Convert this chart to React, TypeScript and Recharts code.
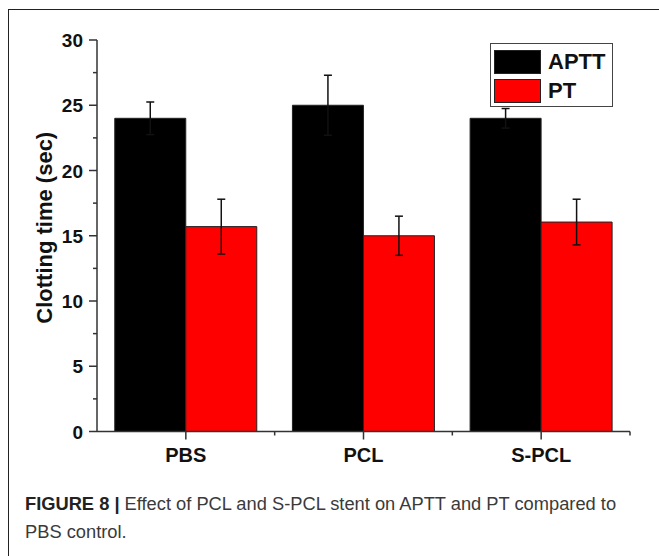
import React from "react";
import { BarChart, Bar, XAxis, YAxis, ErrorBar, Legend } from "recharts";

const categories = ["PBS", "PCL", "S-PCL"];
const apttValues = [24.0, 25.0, 24.0];
const apttErrors = [1.25, 2.3, 0.75];
const ptValues = [15.7, 15.0, 16.05];
const ptErrors = [2.1, 1.5, 1.75];
const yTicks = [0, 2.5, 5, 7.5, 10, 12.5, 15, 17.5, 20, 22.5, 25, 27.5, 30];

const FONT = '"Liberation Sans", Arial, Helvetica, sans-serif';
const AXIS = "#333";

// plot box: left 97, right 630, top 40, bottom 431.5
const CHART_W = 659;
const CHART_H = 480;
const PLOT_W = 533;
const BAND = PLOT_W / categories.length;

const data = categories.map((name, i) => ({
  name,
  aptt: apttValues[i],
  apttErr: apttErrors[i],
  pt: ptValues[i],
  ptErr: ptErrors[i],
}));

const series = [
  { key: "aptt", err: "apttErr", label: "APTT", color: "#000000" },
  { key: "pt", err: "ptErr", label: "PT", color: "#ff0000" },
];

function YTick(props: any) {
  const { x, y, payload } = props;
  const axisX = x + 12;
  const major = payload.value % 5 === 0;
  return (
    <g>
      <line x1={axisX - (major ? 8 : 4)} x2={axisX} y1={y} y2={y} stroke={AXIS} strokeWidth={1.5} />
      {major && (
        <text x={axisX - 14} y={y} dy={7} textAnchor="end" fontFamily={FONT} fontWeight="bold" fontSize={19} fill="#111">
          {payload.value}
        </text>
      )}
    </g>
  );
}

function XTick(props: any) {
  const { x, y, payload } = props;
  const axisY = y - 12;
  return (
    <g>
      <line x1={x} x2={x} y1={axisY} y2={axisY + 8} stroke={AXIS} strokeWidth={1.5} />
      <line x1={x + BAND / 2} x2={x + BAND / 2} y1={axisY} y2={axisY + 4} stroke={AXIS} strokeWidth={1.5} />
      <text x={x} y={axisY + 30} textAnchor="middle" fontFamily={FONT} fontWeight="bold" fontSize={20} fill="#111">
        {payload.value}
      </text>
    </g>
  );
}

function YLabel(props: any) {
  const { viewBox } = props;
  const cy = viewBox.y + viewBox.height / 2 - 8;
  const cx = 44;
  return (
    <text
      x={cx}
      y={cy}
      transform={`rotate(-90, ${cx}, ${cy})`}
      textAnchor="middle"
      dominantBaseline="central"
      fontFamily={FONT}
      fontWeight="bold"
      fontSize={22}
      fill="#111"
    >
      Clotting time (sec)
    </text>
  );
}

function LegendBox() {
  return (
    <div
      style={{
        border: "1px solid #444",
        background: "#fff",
        padding: "3px 6px 1px 3px",
        fontFamily: FONT,
        width: 112,
        boxSizing: "content-box",
      }}
    >
      {series.map((s) => (
        <div key={s.key} style={{ display: "flex", alignItems: "center", height: 29 }}>
          <div style={{ width: 47, height: 24, background: s.color, border: "1px solid #222", boxSizing: "border-box" }} />
          <span style={{ marginLeft: 7, fontWeight: "bold", fontSize: 22, color: "#111", lineHeight: "24px" }}>
            {s.label}
          </span>
        </div>
      ))}
    </div>
  );
}

export default function App() {
  return (
    <div style={{ position: "absolute", left: 0, top: 0, width: 659, height: 556, background: "#fff", overflow: "hidden" }}>
      <div
        style={{
          position: "absolute",
          left: 8,
          top: 9,
          width: 700,
          height: 600,
          borderTop: "1.5px solid #222",
          borderLeft: "1.5px solid #222",
        }}
      />
      <div style={{ position: "absolute", left: 0, top: 0 }}>
        <BarChart
          width={CHART_W}
          height={CHART_H}
          data={data}
          margin={{ top: 40, right: 29, bottom: 18.5, left: 37 }}
          barCategoryGap="10%"
          barGap={0}
        >
          <XAxis
            dataKey="name"
            height={30}
            stroke={AXIS}
            strokeWidth={1.5}
            tickLine={false}
            tickSize={8}
            tickMargin={4}
            tick={<XTick />}
            interval={0}
          />
          <XAxis xAxisId="top" orientation="top" dataKey="name" height={0} stroke={AXIS} strokeWidth={1.5} tick={false} tickLine={false} />
          <YAxis
            type="number"
            domain={[0, 30]}
            ticks={yTicks}
            interval={0}
            width={60}
            stroke={AXIS}
            strokeWidth={1.5}
            tickLine={false}
            tickSize={8}
            tickMargin={4}
            tick={<YTick />}
            label={<YLabel />}
          />
          <YAxis yAxisId="right" orientation="right" width={0} stroke={AXIS} strokeWidth={1.5} tick={false} tickLine={false} />
          <Legend
            layout="vertical"
            align="center"
            verticalAlign="middle"
            wrapperStyle={{ position: "absolute", left: 490, top: 43, width: "auto", height: "auto" }}
            content={() => <LegendBox />}
          />
          {series.map((s) => (
            <Bar key={s.key} dataKey={s.key} fill={s.color} stroke="#222" strokeWidth={1} isAnimationActive={false}>
              <ErrorBar dataKey={s.err} width={4} stroke="#111" strokeWidth={1.5} direction="y" />
            </Bar>
          ))}
        </BarChart>
      </div>
      <div
        style={{
          position: "absolute",
          left: 25,
          top: 490,
          width: 630,
          fontFamily: FONT,
          fontSize: 18.3,
          lineHeight: "28px",
          color: "#3a3a3a",
          whiteSpace: "nowrap",
        }}
      >
        <span style={{ fontWeight: "bold", color: "#222" }}>FIGURE 8 | </span>
        Effect of PCL and S-PCL stent on APTT and PT compared to
        <br />
        PBS control.
      </div>
    </div>
  );
}
